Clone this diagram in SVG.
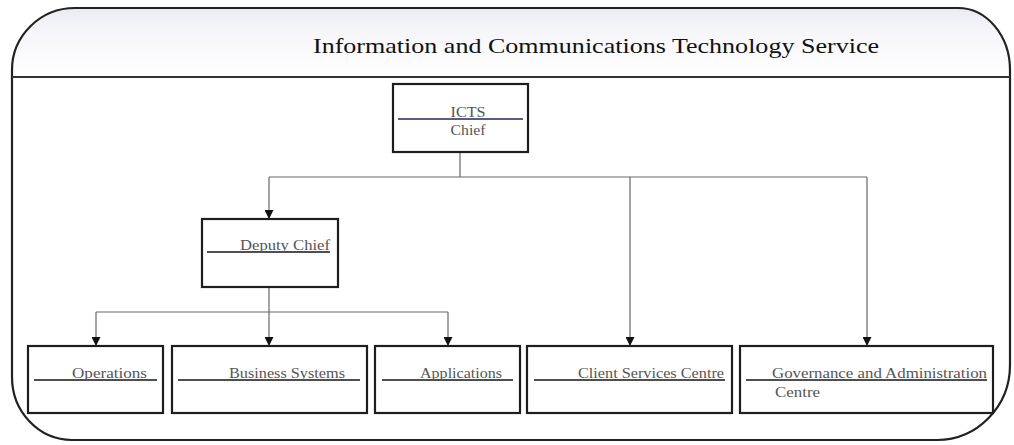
<svg xmlns="http://www.w3.org/2000/svg" width="1014" height="445" viewBox="0 0 1014 445">
<defs>
<linearGradient id="hdr" x1="0" y1="0" x2="0" y2="1">
<stop offset="0" stop-color="#e6e6f2"/>
<stop offset="0.45" stop-color="#f7f7fb"/>
<stop offset="1" stop-color="#ffffff"/>
</linearGradient>
<marker id="arr" viewBox="0 0 10 10" refX="10" refY="5" markerWidth="9" markerHeight="9" markerUnits="userSpaceOnUse" orient="auto">
<path d="M0,0 L10,5 L0,10 Z" fill="#111"/>
</marker>
<clipPath id="outerclip">
<path d="M75,8 L958,8 A52,62 0 0 1 1010,70 L1010,365 A73,75 0 0 1 937,440 L72,440 A60,63 0 0 1 12,377 L12,70 A63,62 0 0 1 75,8 Z"/>
</clipPath>
</defs>
<style>
.box{fill:#fff;stroke:#1e1e1e;stroke-width:2.2}
.ul{stroke:#151515;stroke-width:1.6}
.lbl{font-family:"Liberation Serif","Times New Roman",serif;font-size:14.5px;fill:#555}
.con{fill:none;stroke:#666;stroke-width:1.2}
.title{font-family:"Liberation Serif","Times New Roman",serif;font-size:21px;fill:#111}
</style>
<rect width="1014" height="445" fill="#fff"/>
<g id="frame">
<rect x="0" y="0" width="1014" height="77" fill="url(#hdr)" clip-path="url(#outerclip)"/>
<path d="M75,8 L958,8 A52,62 0 0 1 1010,70 L1010,365 A73,75 0 0 1 937,440 L72,440 A60,63 0 0 1 12,377 L12,70 A63,62 0 0 1 75,8 Z" fill="none" stroke="#222" stroke-width="2.2"/>
<line x1="12" y1="77" x2="1010" y2="77" stroke="#333" stroke-width="2"/>
<text class="title" x="313" y="53" textLength="566" lengthAdjust="spacingAndGlyphs">Information and Communications Technology Service</text>
</g>
<g id="connectors">
<polyline class="con" points="460,153 460,177"/>
<line class="con" x1="269" y1="177" x2="867" y2="177"/>
<line class="con" x1="269" y1="177" x2="269" y2="219" marker-end="url(#arr)"/>
<line class="con" x1="630" y1="177" x2="630" y2="346" marker-end="url(#arr)"/>
<line class="con" x1="867" y1="177" x2="867" y2="346" marker-end="url(#arr)"/>
<line class="con" x1="269" y1="287" x2="269" y2="312"/>
<line class="con" x1="96" y1="312" x2="448" y2="312"/>
<line class="con" x1="96" y1="312" x2="96" y2="346" marker-end="url(#arr)"/>
<line class="con" x1="269" y1="312" x2="269" y2="346" marker-end="url(#arr)"/>
<line class="con" x1="448" y1="312" x2="448" y2="346" marker-end="url(#arr)"/>
</g>
<g id="ictsChief">
<rect class="box" x="393" y="84" width="135" height="68"/>
<line x1="398" y1="119" x2="523" y2="119" stroke="#26265a" stroke-width="1.6"/>
<text class="lbl" x="468" y="117" text-anchor="middle" textLength="35" lengthAdjust="spacingAndGlyphs">ICTS</text>
<text class="lbl" x="468" y="135" text-anchor="middle" textLength="35" lengthAdjust="spacingAndGlyphs">Chief</text>
</g>
<g id="deputyChief">
<rect class="box" x="202" y="219" width="136" height="68"/>
<line class="ul" x1="207" y1="252" x2="330" y2="252"/>
<text class="lbl" x="240" y="250" textLength="90" lengthAdjust="spacingAndGlyphs">Deputy Chief</text>
</g>
<g id="operations">
<rect class="box" x="28" y="346" width="135" height="67"/>
<line class="ul" x1="34" y1="380" x2="157" y2="380"/>
<text class="lbl" x="72" y="378" textLength="75" lengthAdjust="spacingAndGlyphs">Operations</text>
</g>
<g id="businessSystems">
<rect class="box" x="172" y="346" width="195" height="67"/>
<line class="ul" x1="178" y1="380" x2="360" y2="380"/>
<text class="lbl" x="229" y="378" textLength="116" lengthAdjust="spacingAndGlyphs">Business Systems</text>
</g>
<g id="applications">
<rect class="box" x="375" y="346" width="145" height="67"/>
<line class="ul" x1="382" y1="380" x2="513" y2="380"/>
<text class="lbl" x="420" y="378" textLength="82" lengthAdjust="spacingAndGlyphs">Applications</text>
</g>
<g id="clientServices">
<rect class="box" x="527" y="346" width="205" height="67"/>
<line class="ul" x1="534" y1="380" x2="725" y2="380"/>
<text class="lbl" x="578" y="378" textLength="146" lengthAdjust="spacingAndGlyphs">Client Services Centre</text>
</g>
<g id="governance">
<rect class="box" x="740" y="346" width="253" height="67"/>
<line class="ul" x1="746" y1="380" x2="987" y2="380"/>
<text class="lbl" x="772" y="378" textLength="215" lengthAdjust="spacingAndGlyphs">Governance and Administration</text>
<text class="lbl" x="775" y="397" textLength="45" lengthAdjust="spacingAndGlyphs">Centre</text>
</g>
</svg>
